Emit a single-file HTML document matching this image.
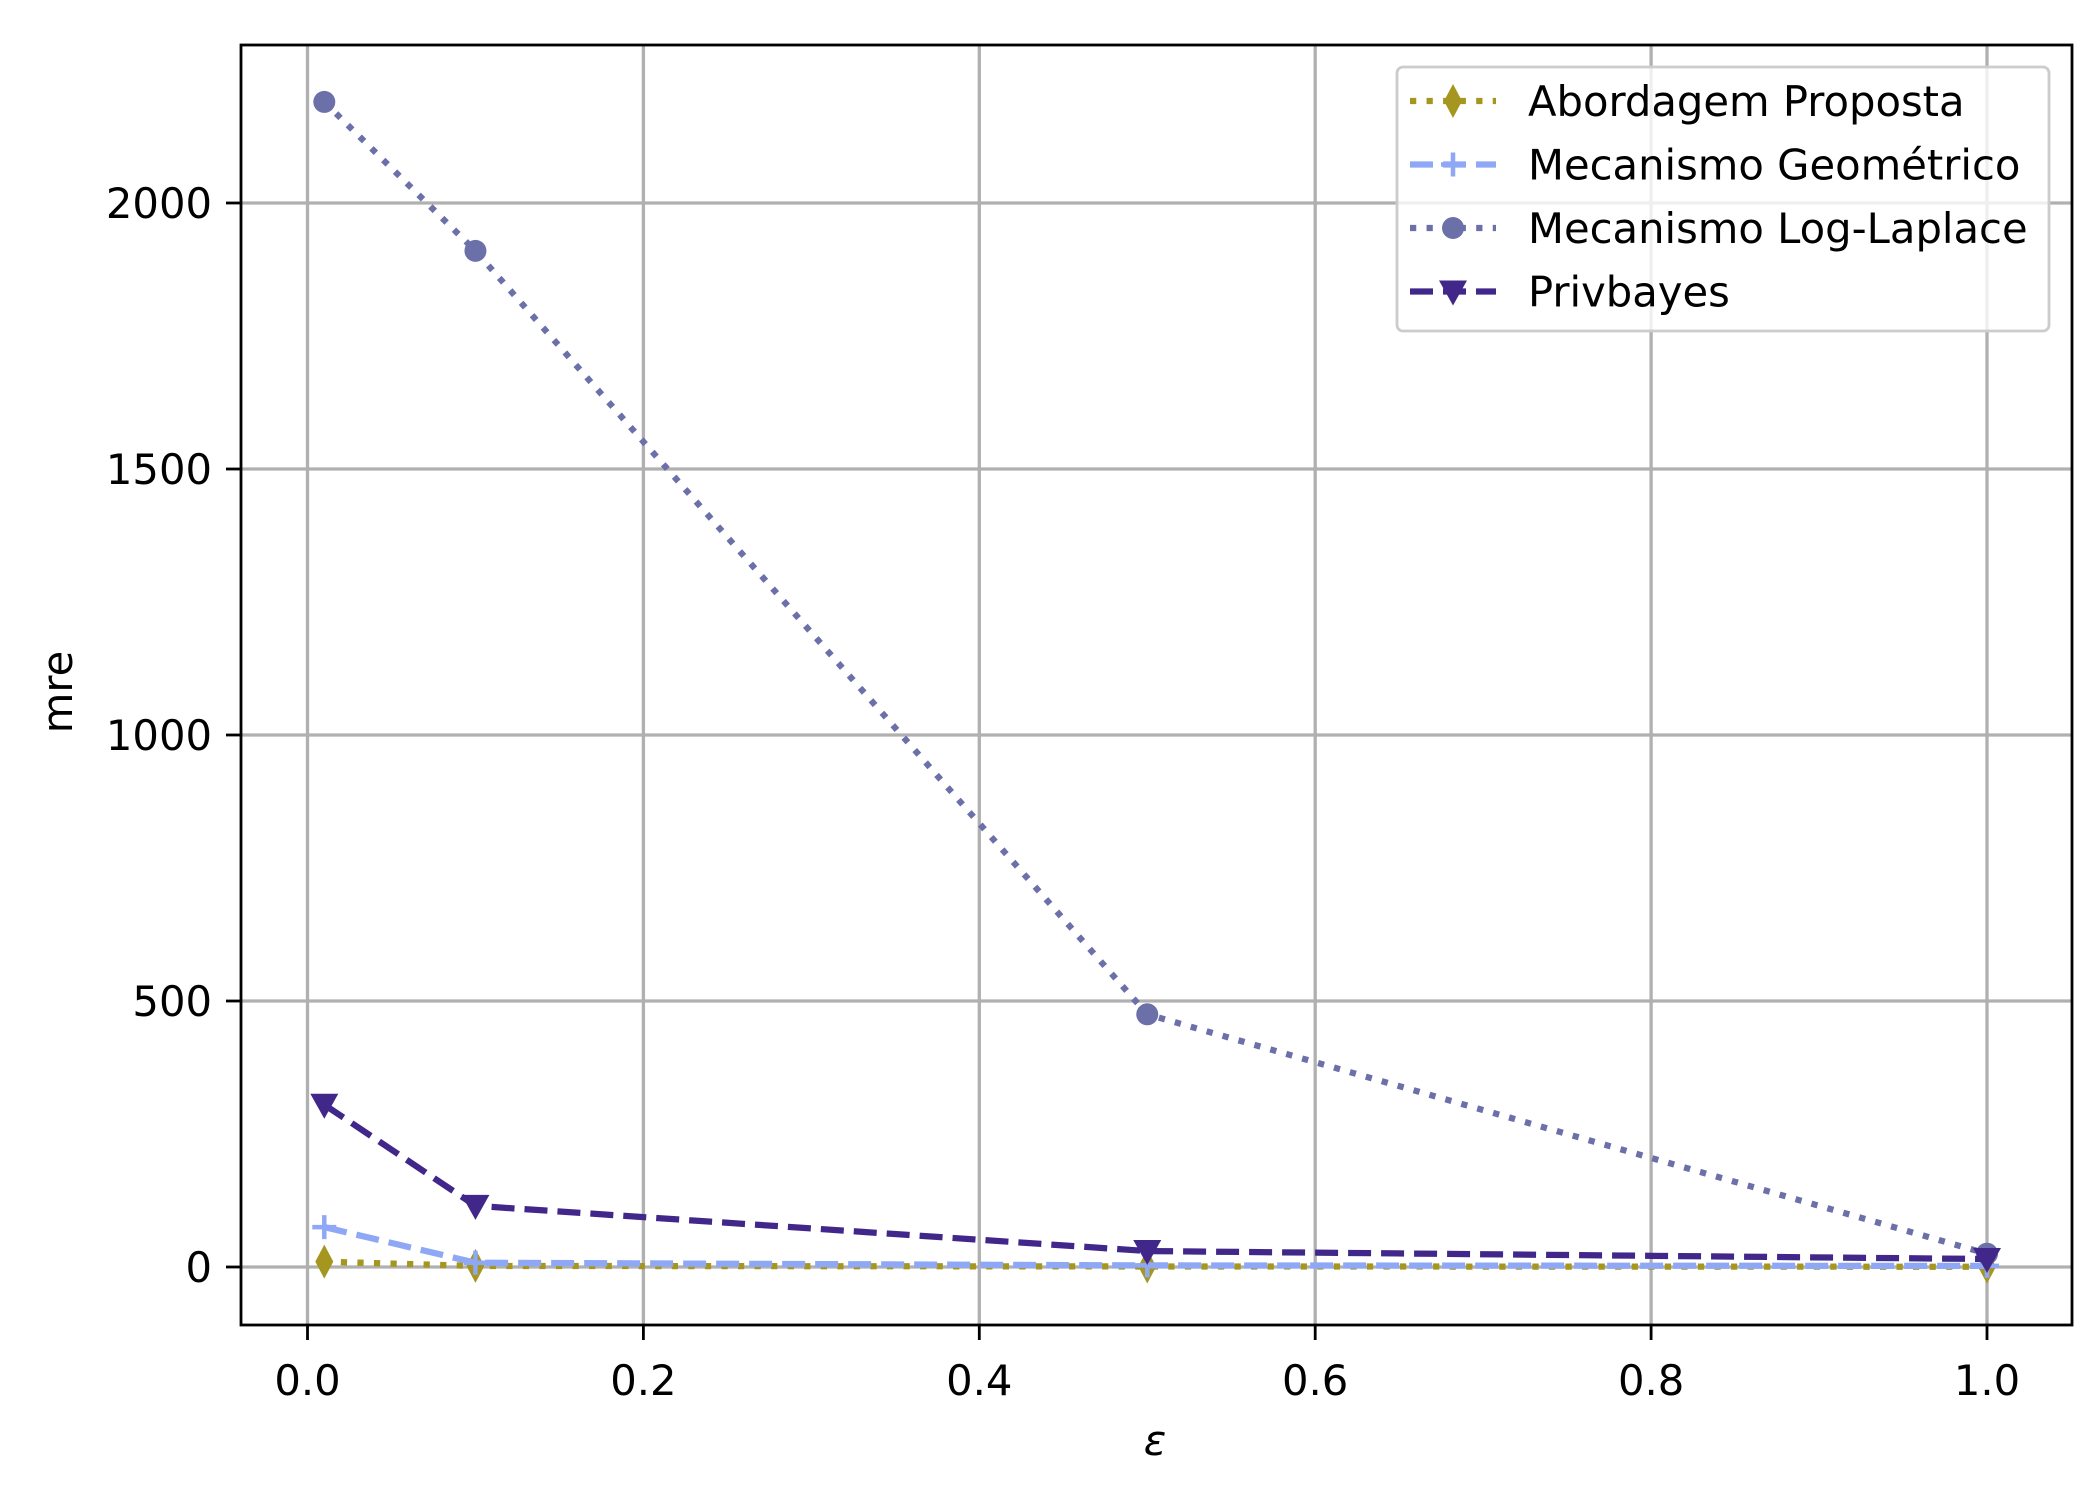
<!DOCTYPE html>
<html><head><meta charset="utf-8"><style>
html,body{margin:0;padding:0;background:#fff;}
svg{display:block;font-family:"DejaVu Sans","Liberation Sans",sans-serif;}
</style></head><body>
<svg id="chart" width="2100" height="1500" viewBox="0 0 2100 1500">
<rect width="2100" height="1500" fill="#fff"/>
<g id="grid"></g>
<g id="series"></g>
<rect x="241" y="45" width="1831" height="1280" fill="none" stroke="#000" stroke-width="2.8"/>
<g id="ticks"></g>
<text x="72" y="692" font-size="41.7" text-anchor="middle" transform="rotate(-90 72 692)">mre</text>
<text x="1155" y="1455" font-size="41.7" font-style="italic" text-anchor="middle">ε</text>
<g id="legend"></g>
</svg>
<script>
const xValues = [0.01, 0.1, 0.5, 1.0];
const proposta = [10, 2, 1, 0.5];
const geometrico = [75, 8, 3, 2];
const logLaplace = [2190, 1910, 475, 25];
const privbayes = [305, 115, 30, 15];
const xTicks = [0.0, 0.2, 0.4, 0.6, 0.8, 1.0];
const xTickLabels = ["0.0", "0.2", "0.4", "0.6", "0.8", "1.0"];
const yTicks = [0, 500, 1000, 1500, 2000];
const yTickLabels = ["0", "500", "1000", "1500", "2000"];
const seriesNames = ["Abordagem Proposta", "Mecanismo Geométrico", "Mecanismo Log-Laplace", "Privbayes"];

const NS = "http://www.w3.org/2000/svg";
const X0 = 307.5, X1 = 1987, Y0 = 1267, YPER = 0.532;
function sx(v){ return X0 + (X1 - X0) * v; }
function sy(v){ return Y0 - v * YPER; }
function mk(tag, attrs, parent){
  const e = document.createElementNS(NS, tag);
  for (const k in attrs) e.setAttribute(k, attrs[k]);
  parent.appendChild(e);
  return e;
}
const grid = document.getElementById('grid');
const ticks = document.getElementById('ticks');
xTicks.forEach((t, i) => {
  const g = mk('line', {x1: sx(t), x2: sx(t), y1: 45, y2: 1325, stroke: '#b0b0b0', 'stroke-width': 3.3}, grid);
  
  
  const tk = mk('line', {x1: sx(t), x2: sx(t), y1: 1325, y2: 1340, stroke: '#000', 'stroke-width': 2.8}, ticks);
  
  
  const tx = mk('text', {x: sx(t), y: 1395, 'font-size': 41.7, 'text-anchor': 'middle'}, ticks);
  tx.textContent = xTickLabels[i];
  
  
});
yTicks.forEach((t, i) => {
  const g = mk('line', {x1: 241, x2: 2072, y1: sy(t), y2: sy(t), stroke: '#b0b0b0', 'stroke-width': 3.3}, grid);
  
  
  const tk = mk('line', {x1: 226, x2: 241, y1: sy(t), y2: sy(t), stroke: '#000', 'stroke-width': 2.8}, ticks);
  
  
  const tx = mk('text', {x: 212, y: sy(t) + 15, 'font-size': 41.7, 'text-anchor': 'end'}, ticks);
  tx.textContent = yTickLabels[i];
  
  
});

function marker(type, x, y, color, parent){
  let m;
  if (type === 'diamond') m = mk('polygon', {points: `${x},${y-17} ${x+9},${y} ${x},${y+17} ${x-9},${y}`, fill: color}, parent);
  else if (type === 'plus') m = mk('path', {d: `M${x-12},${y}H${x+12}M${x},${y-12}V${y+12}`, stroke: color, 'stroke-width': 4.5, fill: 'none'}, parent);
  else if (type === 'circle') m = mk('circle', {cx: x, cy: y, r: 11, fill: color}, parent);
  else m = mk('polygon', {points: `${x-14},${y-11} ${x+14},${y-11} ${x},${y+14}`, fill: color}, parent);
  return m;
}
const seriesDefs = [
  {vals: proposta, color: '#a4961e', dash: '6.25 10.3', marker: 'diamond', slug: 'abordagem-proposta'},
  {vals: geometrico, color: '#8fa8f5', dash: '23 10', marker: 'plus', slug: 'mecanismo-geometrico'},
  {vals: logLaplace, color: '#6b70a8', dash: '6.25 10.3', marker: 'circle', slug: 'mecanismo-log-laplace'},
  {vals: privbayes, color: '#42278a', dash: '23 10', marker: 'triangle', slug: 'privbayes'}
];
const sl = document.getElementById('series');
seriesDefs.forEach(s => {
  const g = mk('g', {}, sl);
  
  
  const pts = s.vals.map((v, i) => sx(xValues[i]) + ',' + sy(v)).join(' ');
  const pl = mk('polyline', {points: pts, fill: 'none', stroke: s.color, 'stroke-width': 6.25, 'stroke-dasharray': s.dash}, g);
  
  
  s.vals.forEach((v, i) => {
    const m = marker(s.marker, sx(xValues[i]), sy(v), s.color, g);
    
    
  });
});

const lg = document.getElementById('legend');
const box = mk('rect', {x: 1397, y: 67, width: 652, height: 264, rx: 6, fill: '#fff', 'fill-opacity': 0.8, stroke: '#ccc', 'stroke-width': 2.8}, lg);


seriesDefs.forEach((s, i) => {
  const y = 101 + i * 63.5;
  const g = mk('g', {}, lg);
  
  
  mk('line', {x1: 1410, x2: 1496, y1: y, y2: y, stroke: s.color, 'stroke-width': 6.25, 'stroke-dasharray': s.dash}, g);
  marker(s.marker, 1453, y, s.color, g);
  const t = mk('text', {x: 1528, y: y + 15, 'font-size': 41.7}, g);
  t.textContent = seriesNames[i];
});
</script>
</body></html>
